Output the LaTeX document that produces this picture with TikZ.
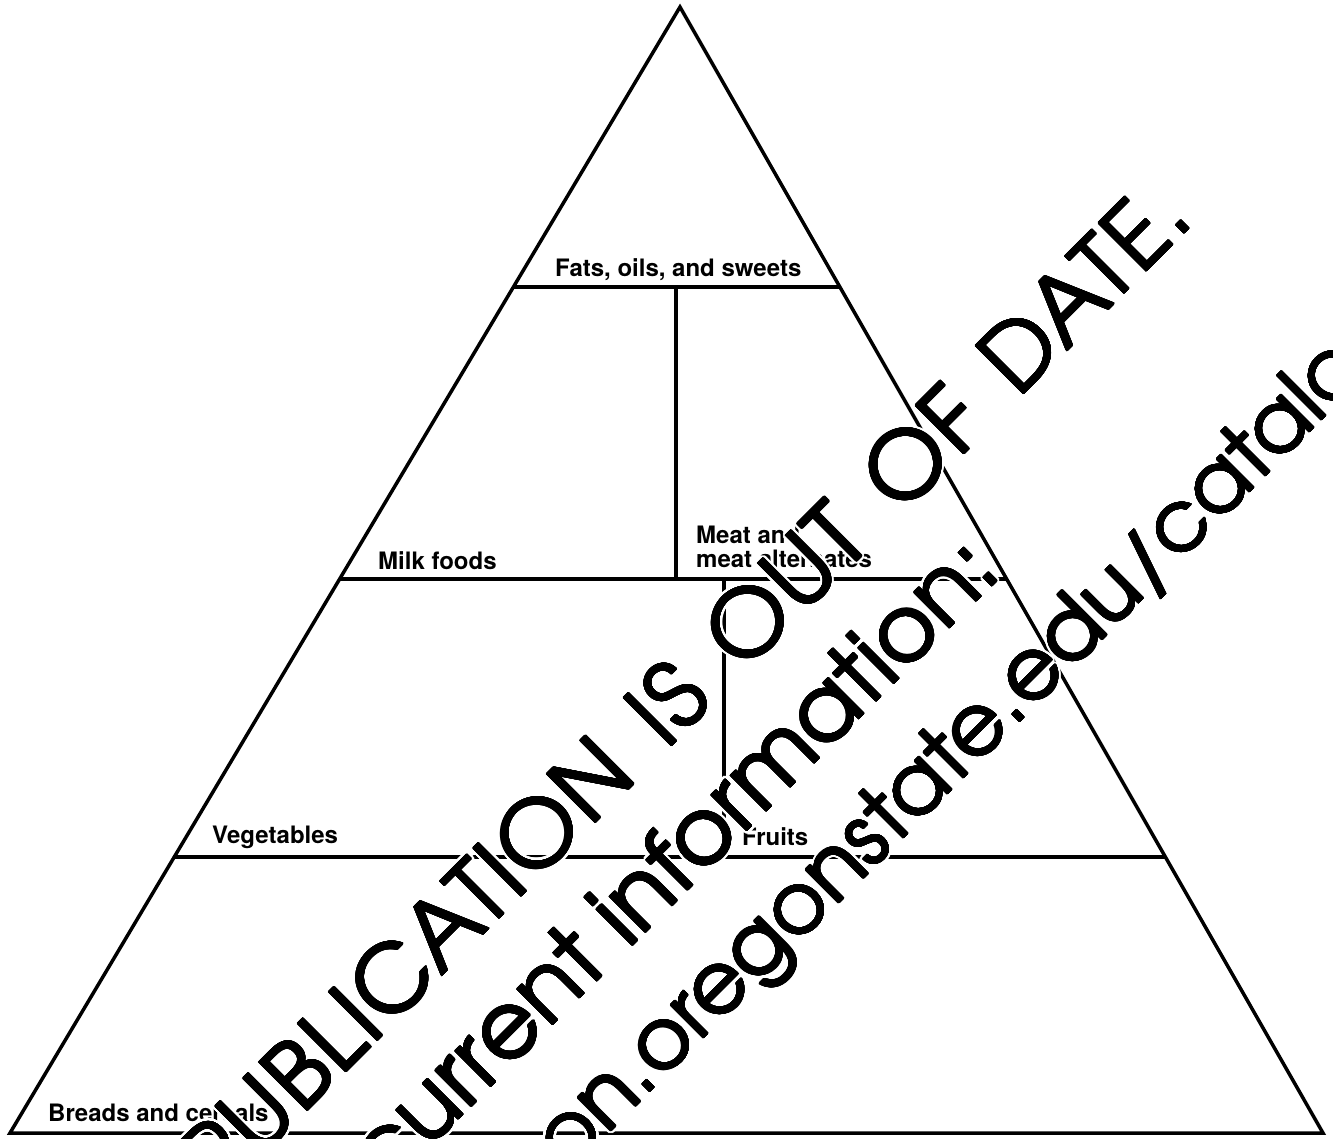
\documentclass[tikz,border=0pt]{standalone}
\usepackage{fontspec}
\setmainfont{TeX Gyre Heros}
\newfontfamily\wmfont{TeX Gyre Adventor}
\newfontfamily\wmfontwide{TeX Gyre Adventor}[LetterSpace=2.0]
\usepackage[copies]{contour}
\contournumber{24}
\newcommand{\wmtext}[1]{\rlap{\contourlength{3.3pt}\contour{white}{#1}}{\contourlength{0.8pt}\contour{black}{#1}}}
\usetikzlibrary{calc}
\tikzset{
  lbl/.style={font=\bfseries\fontsize{24}{24}\selectfont, inner sep=0pt, anchor=base west},
  wm/.style={inner sep=0pt, anchor=base west, rotate=45},
  edgeline/.style={line width=3.5pt, line join=miter},
  tierline/.style={line width=3.5pt}
}
\begin{document}
\begin{tikzpicture}[x=1pt,y=-1pt]
\fill[white] (0,0) rectangle (1333,1138);
\useasboundingbox (0,0) rectangle (1333,1138);
% pyramid outline
\coordinate (apex) at (680,7);
\coordinate (bl) at (10,1133);
\coordinate (br) at (1323,1133);
\draw[edgeline] (apex) -- (bl) -- (br) -- cycle;
% tier points
\coordinate (t1l) at (513.4,287);
\coordinate (t1r) at (839.9,287);
\coordinate (t2l) at (339.6,579);
\coordinate (t2r) at (1006.6,579);
\coordinate (t3l) at (174.2,857);
\coordinate (t3r) at (1165.4,857);
\coordinate (v1t) at (676,287);
\coordinate (v1b) at (676,579);
\coordinate (v2t) at (724,579);
\coordinate (v2b) at (724,857);
\draw[tierline] (t1l) -- (t1r);
\draw[tierline] (t2l) -- (t2r);
\draw[tierline] (t3l) -- (t3r);
\draw[tierline] (v1t) -- (v1b);
\draw[tierline] (v2t) -- (v2b);
% labels
\node[lbl] (fats) at (555,276) {Fats, oils, and sweets};
\node[lbl] (milk) at (378,569) {Milk foods};
\node[lbl] (meat) at (696,543) {\begin{tabular}[t]{@{}l@{}}Meat and\\meat alternates\end{tabular}};
\node[lbl] (veg) at (212,843) {Vegetables};
\node[lbl] (fruit) at (742,845) {Fruits};
\node[lbl] (bread) at (48,1121) {Breads and cereals};
% watermark
\begin{scope}
\clip (0,0) rectangle (1333,1138);
\node[wm, font=\wmfontwide\fontsize{92}{92}\selectfont] (wm1) at (441.5,976.5) {\spaceskip=40pt\relax\wmtext{\llap{PUBLIC}ATION IS OUT OF DATE.}};
\node[wm, font=\wmfont\fontsize{92}{92}\selectfont] (wm2) at (506.5,1071.5) {\wmtext{\llap{curr}ent information:}};
\node[wm, font=\wmfont\fontsize{85}{85}\selectfont] (wm3) at (644,1098) {\wmtext{\llap{on}.oregonstate.edu/catalog}};
\end{scope}
\end{tikzpicture}
\end{document}
